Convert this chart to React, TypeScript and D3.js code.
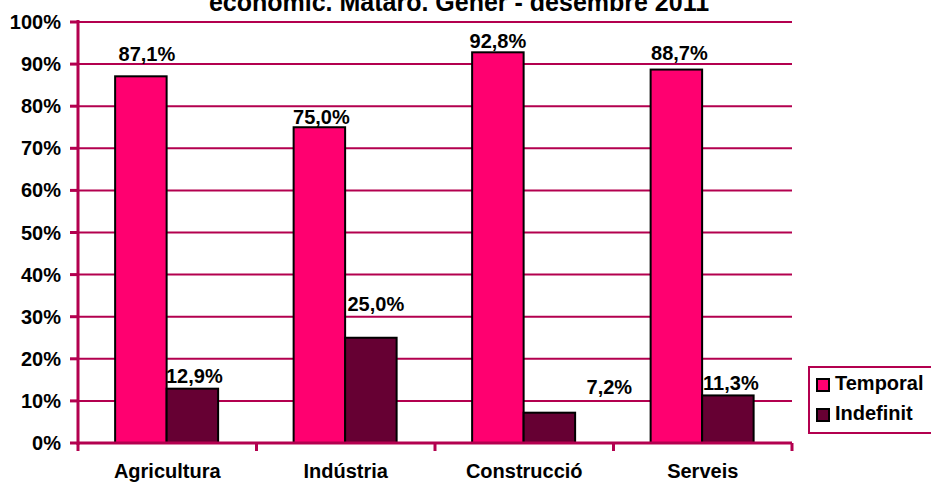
import React from "react";
import * as d3 from "d3";

const categories = ["Agricultura", "Indústria", "Construcció", "Serveis"];
const seriesNames = ["Temporal", "Indefinit"];
const temporal = [87.1, 75.0, 92.8, 88.7];
const indefinit = [12.9, 25.0, 7.2, 11.3];
const yTicks = [0, 10, 20, 30, 40, 50, 60, 70, 80, 90, 100];
const titleText = "econòmic. Mataró. Gener - desembre 2011";

// manual label nudges (dx, dy) per series, per category
const labelNudgeTemporal: [number, number][] = [[6, -9], [2, 3], [0, 2], [3, -4]];
const labelNudgeIndefinit: [number, number][] = [[2, 0], [5, -21], [60, -13], [3, 1]];

const colors = ["#FF0070", "#660033"];
const axisColor = "#B3004F";
const font = "Arial, 'Liberation Sans', sans-serif";

export default function App() {
  const W = 931, H = 485;
  const left = 78, right = 792, top = 22, bottom = 443;
  const x0 = d3.scaleBand<string>().domain(categories).range([left, right]).padding(0);
  const bw = x0.bandwidth();
  const x1 = d3.scaleBand<string>().domain(seriesNames).range([bw * 0.208, bw * 0.785]).padding(0);
  const y = d3.scaleLinear().domain([0, 100]).range([bottom, top]);
  const values = [temporal, indefinit];
  const nudges = [labelNudgeTemporal, labelNudgeIndefinit];
  const fmt = (v: number) => v.toFixed(1).replace(".", ",") + "%";

  return (
    <svg width={W} height={H} style={{ position: "absolute", left: 0, top: 0 }} fontFamily={font}>
      <rect width={W} height={H} fill="#fff" />
      <text x={459} y={11} textAnchor="middle" fontSize={25} fontWeight="bold" fill="#000">{titleText}</text>
      {yTicks.map((t) => (
        <g key={t}>
          {t > 0 && <line x1={left} x2={right} y1={y(t)} y2={y(t)} stroke={axisColor} strokeWidth={2} />}
          <line x1={left - 8} x2={left} y1={y(t)} y2={y(t)} stroke={axisColor} strokeWidth={3} />
          <text x={61} y={y(t) + 7} textAnchor="end" fontSize={20} fontWeight="bold">{t}%</text>
        </g>
      ))}
      {categories.map((c, i) =>
        seriesNames.map((s, j) => {
          const v = values[j][i];
          const bx = (x0(c) as number) + (x1(s) as number);
          const w = x1.bandwidth();
          const [dx, dy] = nudges[j][i];
          return (
            <g key={c + s}>
              <rect x={bx} y={y(v)} width={w} height={bottom - y(v)} fill={colors[j]} stroke="#000" strokeWidth={2} />
              <text x={bx + w / 2 + dx} y={y(v) - 6 + dy} textAnchor="middle" fontSize={20} fontWeight="bold">{fmt(v)}</text>
            </g>
          );
        })
      )}
      <line x1={left} x2={left} y1={top - 2} y2={bottom + 2} stroke={axisColor} strokeWidth={3} />
      <line x1={left - 1} x2={right} y1={bottom} y2={bottom} stroke={axisColor} strokeWidth={3} />
      {[...categories.map((c) => x0(c) as number), right].map((tx, i) => (
        <line key={i} x1={tx} x2={tx} y1={bottom} y2={bottom + 8} stroke={axisColor} strokeWidth={3} />
      ))}
      {categories.map((c) => (
        <text key={c} x={(x0(c) as number) + bw / 2} y={478} textAnchor="middle" fontSize={20} fontWeight="bold">{c}</text>
      ))}
      <rect x={809} y={367} width={135} height={66} fill="#fff" stroke={axisColor} strokeWidth={2} />
      {seriesNames.map((s, j) => (
        <g key={s}>
          <rect x={817} y={379 + j * 30} width={12} height={12} fill={colors[j]} stroke="#000" strokeWidth={2} />
          <text x={835} y={390 + j * 30} fontSize={20} fontWeight="bold">{s}</text>
        </g>
      ))}
    </svg>
  );
}
